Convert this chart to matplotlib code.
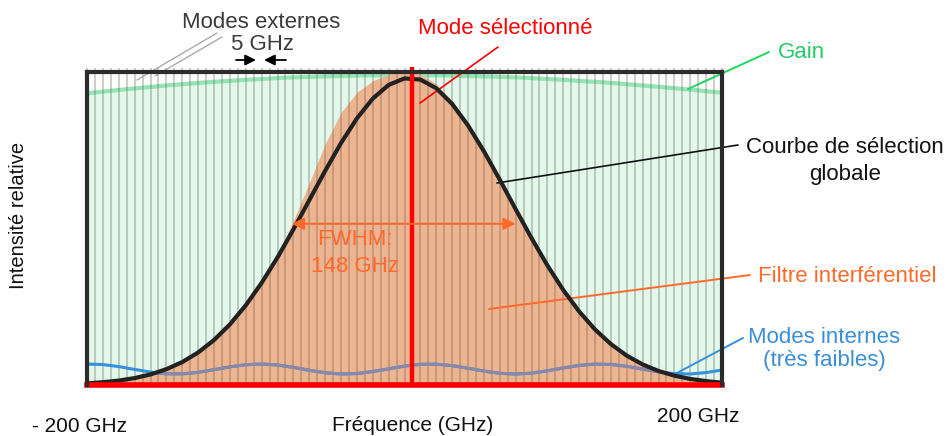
import numpy as np
import matplotlib
matplotlib.use("Agg")
import matplotlib.pyplot as plt

plt.rcParams['font.family'] = ['Liberation Sans', 'DejaVu Sans']

W, H = 946, 436

# frequency grid (GHz) for the curves
freq = list(range(-200, 201, 10))
# courbe de selection globale (black)
selection = [0.0053, 0.0088, 0.0141, 0.0221, 0.0338, 0.0505, 0.0733, 0.1039, 0.1436, 0.1936,
             0.2545, 0.3262, 0.4076, 0.4968, 0.5903, 0.684, 0.773, 0.8516, 0.915, 0.9587,
             0.9795, 0.9758, 0.948, 0.898, 0.8294, 0.747, 0.656, 0.562, 0.4694, 0.3822,
             0.3035, 0.235, 0.1775, 0.1307, 0.0938, 0.0656, 0.0448, 0.0298, 0.0194, 0.0123,
             0.0076]
# filtre interferentiel (orange)
filtre = [0.006, 0.009, 0.015, 0.023, 0.035, 0.052, 0.075, 0.106, 0.146, 0.197,
          0.258, 0.33, 0.415, 0.525, 0.645, 0.77, 0.87, 0.935, 0.972, 0.992,
          1.0, 0.993, 0.962, 0.908, 0.838, 0.755, 0.664, 0.57, 0.476, 0.388,
          0.309, 0.24, 0.181, 0.134, 0.096, 0.068, 0.047, 0.031, 0.02, 0.013,
          0.008]
# modes internes (tres faibles)
internes = [0.0669, 0.0653, 0.0589, 0.0498, 0.0412, 0.0358, 0.0356, 0.0404, 0.0489, 0.058,
            0.0648, 0.067, 0.0638, 0.0563, 0.047, 0.0391, 0.0352, 0.0365, 0.0428, 0.0517,
            0.0605, 0.066, 0.0666, 0.0619, 0.0536, 0.0444, 0.0374, 0.035, 0.0379, 0.0453,
            0.0545, 0.0625, 0.0668, 0.0657, 0.0597, 0.0508, 0.0419, 0.0361, 0.0353, 0.0397,
            0.048]
# gain
gain_freq = list(range(-200, 201, 25))
gain = [0.932, 0.945, 0.957, 0.967, 0.975, 0.982, 0.986, 0.989, 0.99,
        0.989, 0.986, 0.982, 0.975, 0.967, 0.957, 0.946, 0.934]
# modes externes, 5 GHz spacing
modes = np.arange(-200, 201, 5)
mode_selectionne = 5

fig = plt.figure(figsize=(W / 100, H / 100), dpi=100)
ax = fig.add_axes([87 / W, 1 - 385 / H, 635 / W, 313 / H])
ax.set_xlim(-200, 200)
ax.set_ylim(0, 1)
ax.set_xticks([])
ax.set_yticks([])

ax.fill_between(gain_freq, 0, gain, color='#e2f8ea', lw=0, zorder=1)
ax.plot(gain_freq, gain, color='#93e6b4', lw=3, zorder=1.5)
orange = ax.fill_between(freq, 0, filtre, color='#eeb38f', lw=0, zorder=2)

ax.vlines(modes, 0, 1.012, color='#6f655d', alpha=0.42, lw=1.1, zorder=3, clip_on=False)

ax.plot(freq, internes, color='#3391dd', lw=2.2, zorder=3.5)
gris, = ax.plot(freq, internes, color='#8a87a8', lw=2.2, zorder=3.6)
gris.set_clip_path(orange.get_paths()[0], ax.transData)

ax.plot(freq, selection, color='#222222', lw=3, zorder=4)
ax.vlines([mode_selectionne], 0, 1.015, color='#ff0000', lw=3.2, zorder=5, clip_on=False)
ax.axhline(0, color='#ff0000', lw=4, zorder=6, clip_on=False)

for s in ['left', 'right', 'top']:
    ax.spines[s].set_color('#2b2b2b')
    ax.spines[s].set_linewidth(3)
    ax.spines[s].set_zorder(7)
ax.spines['bottom'].set_visible(False)

# FWHM arrow
ax.annotate('', xy=(-71, 0.515), xytext=(70, 0.515),
            arrowprops=dict(arrowstyle='<|-|>', color='#ff6a2b', lw=1.5, mutation_scale=18,
                            shrinkA=0, shrinkB=0), zorder=6)


def P(x, y):
    return (x, H - y)


def trait(p1, p2, color, lw=1.2):
    ax.annotate('', xy=P(*p2), xycoords='figure pixels', xytext=P(*p1),
                textcoords='figure pixels',
                arrowprops=dict(arrowstyle='-', color=color, lw=lw, shrinkA=0, shrinkB=0),
                annotation_clip=False)


def texte(x, y, s, color, size=16, ha='center'):
    fig.text(x / W, 1 - y / H, s, color=color, fontsize=size, ha=ha, va='baseline')


# pointer lines
trait((217, 33), (137, 80), '#aaaaaa', 1)
trait((222, 37), (155, 76), '#aaaaaa', 1)
trait((498, 47), (420, 103), '#ff0000')
trait((769, 52), (688, 89), '#1ed760', 1.4)
trait((738, 145), (497, 183), '#111111')
trait((750, 275), (489, 309), '#ff6a2b', 1.4)
trait((743, 338), (675, 374), '#3391dd', 1.4)

# 5 GHz arrows
for a, b in [((236, 60), (256, 60)), ((286, 60), (264, 60))]:
    ax.annotate('', xy=P(*b), xycoords='figure pixels', xytext=P(*a),
                textcoords='figure pixels',
                arrowprops=dict(arrowstyle='-|>', color='black', lw=1.3, mutation_scale=16,
                                shrinkA=0, shrinkB=0), annotation_clip=False)

texte(261, 28, 'Modes externes', '#3a3a3a')
texte(262, 50, '5 GHz', '#3a3a3a')
texte(505, 34, 'Mode sélectionné', '#ff0000')
texte(778, 58, 'Gain', '#22cc66', ha='left')
texte(845, 153, 'Courbe de sélection', '#111111')
texte(845, 180, 'globale', '#111111')
texte(847, 282, 'Filtre interférentiel', '#ff6a2b')
texte(824, 343, 'Modes internes', '#3a8fd6')
texte(824, 366, '(très faibles)', '#3a8fd6')
texte(355, 245, 'FWHM:', '#ff6a2b')
texte(355, 272, '148 GHz', '#ff6a2b')
texte(32, 432, '- 200 GHz', '#111111', size=15, ha='left')
texte(413, 431, 'Fréquence (GHz)', '#111111', size=15)
texte(657, 422, '200 GHz', '#111111', size=15, ha='left')
fig.text(19 / W, 1 - 215 / H, 'Intensité relative', color='#111111', fontsize=14.5,
         rotation=90, ha='center', va='center')

fig.savefig('out.png', dpi=100)
